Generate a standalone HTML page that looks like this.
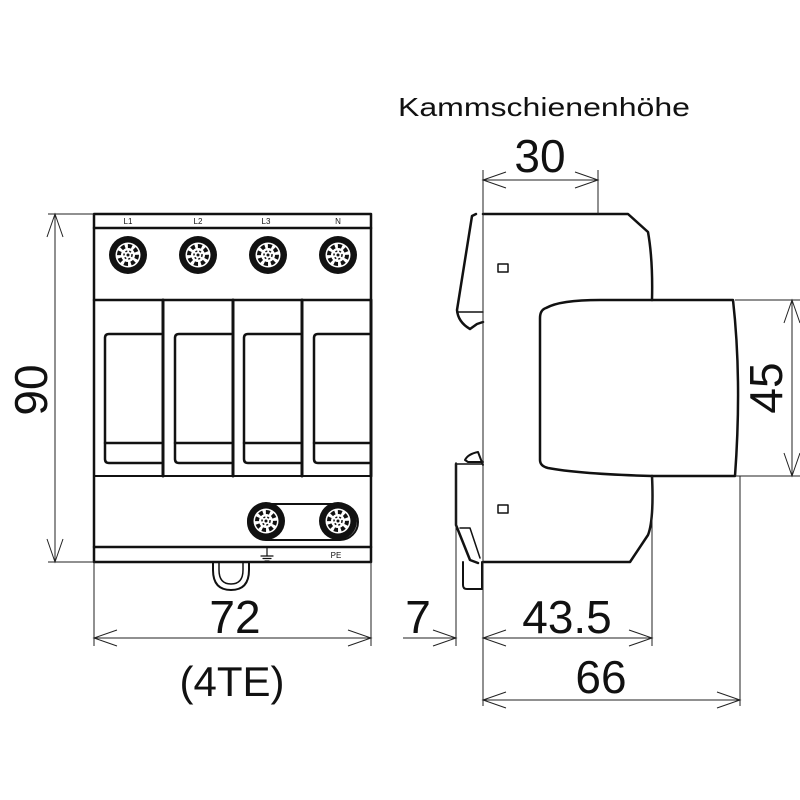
<!DOCTYPE html>
<html><head><meta charset="utf-8"><style>html,body{margin:0;padding:0;background:#fff}svg{display:block}</style></head>
<body>
<svg width="800" height="800" viewBox="0 0 800 800" xmlns="http://www.w3.org/2000/svg">
<defs>
<g id="term">
<circle r="19" fill="#111"/>
<circle r="12.5" fill="#fff"/>
<circle r="9" fill="none" stroke="#111" stroke-width="4" stroke-dasharray="4 3"/>
<circle r="4" fill="none" stroke="#111" stroke-width="1.5" stroke-dasharray="2 2"/>
<circle r="1.5" fill="#111"/>
</g>
</defs>
<g fill="none" stroke="#111" stroke-linejoin="round" stroke-linecap="round">
<!-- Front view -->
<rect x="94" y="214" width="277" height="348" stroke-width="2.5"/>
<line x1="94" y1="228" x2="371" y2="228" stroke-width="2.5"/>
<line x1="94" y1="300" x2="371" y2="300" stroke-width="2.5"/>
<line x1="94" y1="476" x2="371" y2="476" stroke-width="2"/>
<line x1="94" y1="547" x2="371" y2="547" stroke-width="2.5"/>
<line x1="163" y1="300" x2="163" y2="476" stroke-width="3"/>
<line x1="233" y1="300" x2="233" y2="476" stroke-width="3"/>
<line x1="302" y1="300" x2="302" y2="476" stroke-width="3"/>
<line x1="371" y1="300" x2="371" y2="476" stroke-width="3"/>
<g stroke-width="2.5">
<path d="M161 334 H109 q-4 0 -4 4 V459 q0 4 4 4 H161"/><line x1="105" y1="443" x2="161" y2="443"/>
<path d="M231 334 H179 q-4 0 -4 4 V459 q0 4 4 4 H231"/><line x1="175" y1="443" x2="231" y2="443"/>
<path d="M300 334 H248 q-4 0 -4 4 V459 q0 4 4 4 H300"/><line x1="244" y1="443" x2="300" y2="443"/>
<path d="M369 334 H318 q-4 0 -4 4 V459 q0 4 4 4 H369"/><line x1="314" y1="443" x2="369" y2="443"/>
</g>
<rect x="248" y="504" width="110" height="36" rx="18" stroke-width="2"/>
<!-- DIN clip -->
<path d="M213 562 v8 q0 20 18 20 q18 0 18 -20 v-8" stroke-width="2"/>
<path d="M219 562 v8 q0 14 12 14 q12 0 12 -14 v-8" stroke-width="1.5"/>
<!-- ground symbol -->
<g stroke-width="1.2"><line x1="267" y1="548" x2="267" y2="556"/><line x1="261" y1="556" x2="273" y2="556"/><line x1="263" y1="558.5" x2="271" y2="558.5"/><line x1="265" y1="561" x2="269" y2="561"/></g>

<!-- Side view -->
<path d="M483 214 H628 L648 232 Q653 260 652 300" stroke-width="2.5"/>
<path d="M476 214 L472 216 L457 310 Q458 322 470 329 L477 324 L483 322" stroke-width="2.5"/>
<path d="M457 312 L483 312" stroke-width="1.5"/>
<path d="M652 300 H733 Q742 380 735 476 H652" stroke-width="2.5"/>
<path d="M652 300 H600 Q560 300 546 308 Q540 310 540 318 V460 Q540 466 548 468 Q580 474 652 476" stroke-width="2.5"/>
<path d="M652 476 Q654 520 648 535 L630 562 H483" stroke-width="2.5"/>
<path d="M483 465 L478 452 Q468 454 465 460 L468 462 H483" stroke-width="2"/>
<path d="M456 464 L483 464" stroke-width="1.5"/>
<path d="M456 464 V525 L470 560 L478 563" stroke-width="2.5"/>
<path d="M460 528 L470 528 L480 558" stroke-width="1.5"/>
<path d="M463 562 V585 Q463 589 467 589 H482 V562" stroke-width="2"/>
<rect x="498" y="264" width="10" height="8" stroke-width="1.5"/>
<rect x="498" y="505" width="10" height="8" stroke-width="1.5"/>
</g>
<g fill="none" stroke="#222" stroke-width="1">
<!-- rail / extension lines -->
<line x1="483" y1="170" x2="483" y2="706"/>
<line x1="456" y1="462" x2="456" y2="646"/>
<line x1="598" y1="170" x2="598" y2="214"/>
<line x1="652" y1="476" x2="652" y2="646"/>
<line x1="740" y1="476" x2="740" y2="706"/>
<line x1="735" y1="300" x2="800" y2="300"/>
<line x1="735" y1="476" x2="800" y2="476"/>
<line x1="48" y1="214" x2="94" y2="214"/>
<line x1="48" y1="562" x2="94" y2="562"/>
<line x1="94" y1="562" x2="94" y2="646"/>
<line x1="371" y1="562" x2="371" y2="646"/>
<!-- dim lines -->
<line x1="483" y1="180" x2="598" y2="180"/>
<line x1="55" y1="214" x2="55" y2="562"/>
<line x1="94" y1="638" x2="371" y2="638"/>
<line x1="403" y1="638" x2="456" y2="638"/>
<line x1="483" y1="638" x2="652" y2="638"/>
<line x1="483" y1="700" x2="740" y2="700"/>
<line x1="792" y1="300" x2="792" y2="476"/>
<!-- arrows -->
<path d="M506 172 L483 180 L506 188 M575 172 L598 180 L575 188"/>
<path d="M47 237 L55 214 L63 237 M47 539 L55 562 L63 539"/>
<path d="M117 630 L94 638 L117 646 M348 630 L371 638 L348 646"/>
<path d="M433 630 L456 638 L433 646"/>
<path d="M506 630 L483 638 L506 646 M629 630 L652 638 L629 646"/>
<path d="M506 692 L483 700 L506 708 M717 692 L740 700 L717 708"/>
<path d="M784 323 L792 300 L800 323 M784 453 L792 476 L800 453"/>
</g>
<g font-family="Liberation Sans, sans-serif" fill="#111">
<g font-size="8" text-anchor="middle"><text x="128" y="224">L1</text><text x="198" y="224">L2</text><text x="266" y="224">L3</text><text x="338" y="224">N</text><text x="336" y="558">PE</text></g>
<text x="398" y="116" font-size="26" textLength="292" lengthAdjust="spacingAndGlyphs">Kammschienenhöhe</text>
<text x="540" y="172" font-size="46" text-anchor="middle">30</text>
<text x="235" y="633" font-size="46" text-anchor="middle">72</text>
<text x="232" y="696" font-size="42" text-anchor="middle">(4TE)</text>
<text x="418" y="633" font-size="46" text-anchor="middle">7</text>
<text x="567" y="633" font-size="46" text-anchor="middle">43.5</text>
<text x="601" y="693" font-size="46" text-anchor="middle">66</text>
<text transform="translate(47,390) rotate(-90)" font-size="46" text-anchor="middle">90</text>
<text transform="translate(782,388) rotate(-90)" font-size="46" text-anchor="middle">45</text>
</g>
<use href="#term" x="128" y="255"/>
<use href="#term" x="198" y="255"/>
<use href="#term" x="268" y="255"/>
<use href="#term" x="338" y="255"/>
<use href="#term" x="266" y="521"/>
<use href="#term" x="338" y="521"/>
</svg>
</body></html>
